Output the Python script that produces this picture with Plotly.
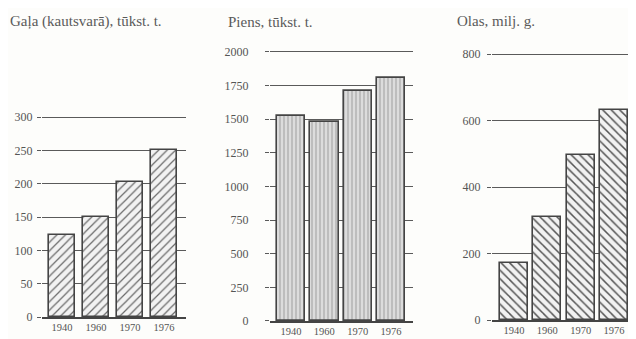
import plotly.graph_objects as go

years = ["1940", "1960", "1970", "1976"]
meat = [123, 150, 202, 250]      # Gaļa (kautsvarā), tūkst. t.
milk = [1525, 1480, 1710, 1810]  # Piens, tūkst. t.
eggs = [170, 310, 495, 632]      # Olas, milj. g.

meat_ticks = [0, 50, 100, 150, 200, 250, 300]
milk_ticks = [0, 250, 500, 750, 1000, 1250, 1500, 1750, 2000]
egg_ticks = [0, 200, 400, 600, 800]

# page body has an 8px margin, so the figure is drawn 8px smaller and offset
OFF = 8
W, H = 636 - OFF, 339 - OFF
ink = "#444444"
grid = "#5a5a5a"
serif = "Liberation Serif"


def px_x(x):
    return (x - OFF) / W


def ydom(y0_px, ytop_px, top, pad=0.015):
    # screen rows of 0 and of the top tick -> domain with a little headroom
    y0_px -= OFF
    ytop_px -= OFF
    per = (y0_px - ytop_px) / top
    upper = ytop_px - top * pad * per
    return [1 - y0_px / H, 1 - upper / H], [0, top * (1 + pad)]


fig = go.Figure()

fig.add_trace(go.Bar(
    x=years, y=meat, width=0.77, xaxis="x", yaxis="y",
    marker=dict(color="#f2f2f2", line=dict(color=ink, width=1.6),
                pattern=dict(shape="/", fgcolor="#6a6a6a", bgcolor="#f2f2f2",
                             size=6, solidity=0.2)),
    showlegend=False,
))
fig.add_trace(go.Bar(
    x=years, y=milk, width=0.85, xaxis="x2", yaxis="y2",
    marker=dict(color="#d4d4d4", line=dict(color=ink, width=1.6),
                pattern=dict(shape="|", fgcolor="#b0b0b0", bgcolor="#dcdcdc",
                             size=4, solidity=0.35)),
    showlegend=False,
))
fig.add_trace(go.Bar(
    x=years, y=eggs, width=0.84, xaxis="x3", yaxis="y3",
    marker=dict(color="#f2f2f2", line=dict(color=ink, width=1.6),
                pattern=dict(shape="\\", fgcolor="#555555", bgcolor="#f2f2f2",
                             size=6, solidity=0.25)),
    showlegend=False,
))

xcommon = dict(type="category", showgrid=False, showline=True, linecolor=ink,
               linewidth=1.5, ticks="", automargin=False,
               tickfont=dict(family=serif, size=10.5, color="#555"))
ycommon = dict(showgrid=True, gridcolor=grid, gridwidth=1.3, zeroline=False,
               showline=False, ticks="outside", ticklen=4, tickcolor=grid,
               automargin=False,
               tickfont=dict(family=serif, size=12, color="#555"))

d1, r1 = ydom(317, 117, 300)
d2, r2 = ydom(321, 52, 2000)
d3, r3 = ydom(320, 54, 800)

fig.update_layout(
    template="none",
    width=W, height=H,
    margin=dict(l=0, r=0, t=0, b=0),
    paper_bgcolor="#fdfdfb", plot_bgcolor="rgba(0,0,0,0)",
    bargap=0,
    xaxis=dict(domain=[px_x(42), px_x(186)], range=[-0.59, 3.65], anchor="y", **xcommon),
    yaxis=dict(domain=d1, range=r1, tickvals=meat_ticks, anchor="x",
               ticklabelstandoff=2, **ycommon),
    xaxis2=dict(domain=[px_x(270), px_x(413)], range=[-0.63, 3.66], anchor="y2", **xcommon),
    yaxis2=dict(domain=d2, range=r2, tickvals=milk_ticks, anchor="x2",
                ticklabelstandoff=14, **ycommon),
    xaxis3=dict(domain=[px_x(492), 1.0], range=[-0.66, 3.66], anchor="y3", **xcommon),
    yaxis3=dict(domain=d3, range=r3, tickvals=egg_ticks, anchor="x3",
                ticklabelstandoff=4, **ycommon),
)

titles = [
    ("Gaļa (kautsvarā), tūkst. t.", 8, 22),
    ("Piens, tūkst. t.", 226, 22),
    ("Olas, milj. g.", 455, 21),
]
for text, px, py in titles:
    fig.add_annotation(
        text=text, x=px_x(px), y=1 - (py - OFF) / H, xref="paper", yref="paper",
        xanchor="left", yanchor="middle", showarrow=False,
        font=dict(family=serif, size=15, color="#5a5a5a"),
    )

fig.write_html("out.html")
